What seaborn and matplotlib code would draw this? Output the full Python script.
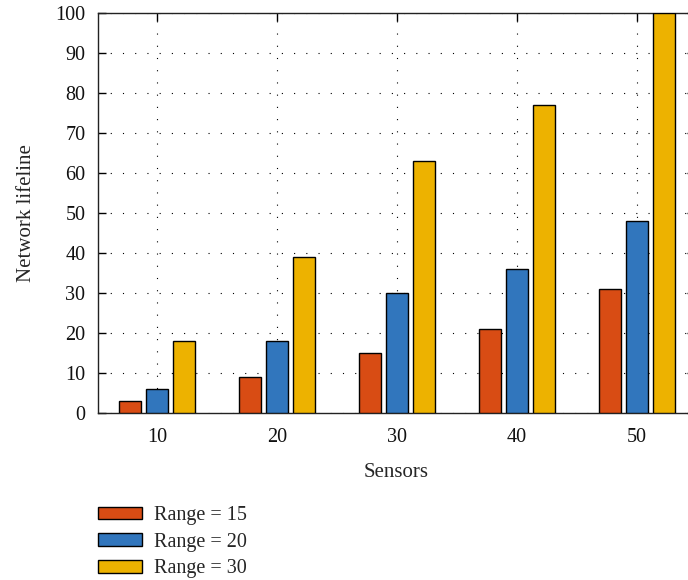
import matplotlib
matplotlib.use("Agg")
import matplotlib.pyplot as plt
import pandas as pd
import seaborn as sns

sensors = [10, 20, 30, 40, 50]
range_15 = [3, 9, 15, 21, 31]
range_20 = [6, 18, 30, 36, 48]
range_30 = [18, 39, 63, 77, 100]
series_labels = ["Range = 15", "Range = 20", "Range = 30"]
colors = ["#D84C14", "#3176BD", "#EDB200"]
y_ticks = [0, 10, 20, 30, 40, 50, 60, 70, 80, 90, 100]

rows = []
for label, vals in zip(series_labels, [range_15, range_20, range_30]):
    for s, v in zip(sensors, vals):
        rows.append({"Sensors": str(s), "Series": label, "Value": v})
df = pd.DataFrame(rows)

sns.set_style("white")
plt.rcParams["font.family"] = ["Liberation Serif", "DejaVu Serif"]
fs = 14.5

fig = plt.figure(figsize=(6.88, 5.8), dpi=100)
ax = fig.add_axes([98 / 688, 167 / 580, 597 / 688, 400 / 580])

sns.barplot(
    data=df, x="Sensors", y="Value", hue="Series",
    order=[str(s) for s in sensors], hue_order=series_labels,
    palette=colors, width=0.675, gap=0.2,
    edgecolor="black", linewidth=1.0, saturation=1.0,
    errorbar=None, ax=ax, legend=True, zorder=3,
)

ax.set_xlim(-59 / 120, (695 - 157) / 120)
ax.set_ylim(0, 100)
ax.set_yticks(y_ticks)
ax.set_yticklabels([str(t) for t in y_ticks], fontsize=fs)
ax.tick_params(axis="x", labelsize=fs, pad=11)
ax.tick_params(axis="y", labelsize=fs, pad=9)

ax.set_axisbelow(True)
ax.grid(True, axis="both", color="black", linestyle=(0, (1, 10)), linewidth=0.8)
ax.tick_params(direction="in", length=6, width=1.0, top=True, right=True,
               bottom=True, left=True, colors="black", labelcolor="#111111")
for sp in ax.spines.values():
    sp.set_visible(True)
    sp.set_color("#222222")
    sp.set_linewidth(1.0)

ax.set_xlabel("Sensors", fontsize=15, labelpad=11)
ax.set_ylabel("Network lifeline", fontsize=15, labelpad=14)

handles, labels = ax.get_legend_handles_labels()
ax.get_legend().remove()
fig.legend(
    handles, labels, loc="upper left", bbox_to_anchor=(90 / 688, 1 - 498 / 580),
    frameon=False, fontsize=fs, handlelength=2.2, handleheight=0.6,
    labelspacing=0.38, handletextpad=0.6, borderaxespad=0,
)

fig.savefig("out.png", dpi=100)
